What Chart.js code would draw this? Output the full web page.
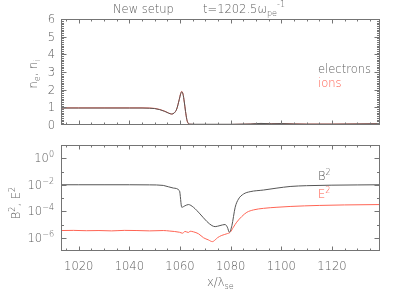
<!DOCTYPE html>
<html>
<head>
<meta charset="utf-8">
<script src="https://cdn.jsdelivr.net/npm/chart.js@4/dist/chart.umd.min.js"></script>
<style>
html, body { margin: 0; padding: 0; background: #fff; }
#wrap { position: relative; width: 407px; height: 291px; }
canvas { position: absolute; left: 0; top: 0; }
</style>
</head>
<body>
<div id="wrap">
  <canvas id="c1" width="407" height="291"></canvas>
  <canvas id="c2" width="407" height="291"></canvas>
</div>
<script>
"use strict";

// ---- data ----
let xDens = [1013, 1020, 1030, 1040, 1045, 1048, 1050, 1052, 1054, 1055.5, 1056.7, 1057.7, 1058.7, 1059.7, 1060.3, 1060.7, 1061.2, 1061.7, 1062.2, 1062.7, 1063.2, 1064, 1066, 1070, 1080, 1088, 1092, 1096, 1100, 1105, 1110, 1120, 1130, 1139];
let electrons = [0.96, 0.96, 0.96, 0.96, 0.96, 0.95, 0.93, 0.87, 0.77, 0.67, 0.62, 0.68, 0.9, 1.43, 1.78, 1.88, 1.74, 1.3, 0.76, 0.32, 0.11, 0.05, 0.04, 0.04, 0.04, 0.06, 0.09, 0.07, 0.08, 0.06, 0.05, 0.05, 0.06, 0.07];
let ions = [0.97, 0.97, 0.97, 0.97, 0.97, 0.96, 0.94, 0.88, 0.78, 0.68, 0.62, 0.68, 0.9, 1.45, 1.8, 1.9, 1.75, 1.3, 0.75, 0.3, 0.1, 0.04, 0.03, 0.03, 0.03, 0.05, 0.08, 0.07, 0.08, 0.06, 0.05, 0.05, 0.06, 0.07];

let xB = [1013, 1020, 1030, 1040, 1048, 1053.4, 1057.4, 1059.8, 1060.7, 1062.0, 1063.3, 1065.3, 1067.9, 1070.6, 1072.6, 1073.9, 1075.8, 1077.8, 1078.7, 1079.5, 1080.5, 1081.8, 1083.1, 1085.1, 1087.7, 1093, 1098.3, 1103.5, 1110, 1120, 1130, 1139];
let bSq = [1.0e-2, 1.0e-2, 1.0e-2, 1.0e-2, 9.8e-3, 8.9e-3, 5.6e-3, 3.5e-3, 2.0e-4, 2.6e-4, 3.2e-4, 2.0e-4, 6.3e-5, 1.7e-5, 8.3e-6, 6.9e-6, 8.3e-6, 1.0e-5, 6.3e-6, 2.6e-6, 8.3e-6, 2.0e-4, 8.3e-4, 2.0e-3, 3.0e-3, 4.0e-3, 5.6e-3, 7.4e-3, 8.5e-3, 9.3e-3, 9.7e-3, 1.0e-2];

let xE = [1013, 1018, 1023, 1028, 1033, 1038, 1043, 1048, 1053.4, 1056, 1059.8, 1061, 1062, 1063.3, 1064, 1065.3, 1067.3, 1069.3, 1071.2, 1072.8, 1073.9, 1074.8, 1076.5, 1078.5, 1079.8, 1081.1, 1082.4, 1084.4, 1086.4, 1089, 1093, 1098.3, 1103.5, 1115, 1125, 1139];
let eSq = [3.5e-6, 3.6e-6, 3.4e-6, 3.5e-6, 3.3e-6, 3.6e-6, 3.5e-6, 3.3e-6, 3.5e-6, 3.2e-6, 2.6e-6, 2.2e-6, 3.0e-6, 2.5e-6, 3.1e-6, 2.8e-6, 2.0e-6, 1.0e-6, 6.9e-7, 5.1e-7, 6.9e-7, 1.0e-6, 1.5e-6, 2.0e-6, 2.6e-6, 6.3e-6, 1.5e-5, 4.0e-5, 8.3e-5, 1.26e-4, 1.66e-4, 2.0e-4, 2.3e-4, 2.75e-4, 3.0e-4, 3.2e-4];

let xTicks = [1020, 1040, 1060, 1080, 1100, 1120];
let densTicks = [0, 1, 2, 3, 4, 5, 6];
let powTicks = [0, -2, -4, -6];

// ---- look ----
let axisCol = '#747474';
let textCol = '#5c5c5c';
let grayLine = '#555555';
let redLine = '#ff6454';
let redText = '#ff5a4a';
let FS = 11.5;
let FF = '"DejaVu Sans", sans-serif';

function pts(xs, ys) {
    return xs.map((x, i) => ({ x: x, y: ys[i] }));
}

// draws text made of pieces: [string, 0 normal / -1 sub / 1 sup]
function rich(ctx, parts, x, y, align) {
    let w = 0;
    for (let p of parts) {
        ctx.font = '200 ' + (p[1] ? FS * 0.7 : FS) + 'px ' + FF;
        w += ctx.measureText(p[0]).width;
    }
    let cx = align == 'center' ? x - w / 2 : (align == 'right' ? x - w : x);
    for (let p of parts) {
        ctx.font = '200 ' + (p[1] ? FS * 0.7 : FS) + 'px ' + FF;
        let dy = p[1] == -1 ? FS * 0.3 : (p[1] == 1 ? -FS * 0.45 : 0);
        ctx.fillText(p[0], cx, y + dy);
        cx += ctx.measureText(p[0]).width;
    }
}

// box with inward ticks, like the old IDL plots
function frame(cfg) {
    return {
        id: 'frame',
        afterDraw(chart) {
            let ctx = chart.ctx, a = chart.chartArea;
            let xs = chart.scales.x, ys = chart.scales.y;
            let L = Math.round(a.left) + 0.5, R = Math.round(a.right) - 0.5;
            let T = Math.round(a.top) + 0.5, B = Math.round(a.bottom) - 0.5;
            ctx.save();
            ctx.strokeStyle = axisCol;
            ctx.lineWidth = 1;
            ctx.strokeRect(L, T, R - L, B - T);
            ctx.beginPath();
            // x ticks, minor every 5
            for (let v = 1015; v <= 1135; v += 5) {
                let px = Math.round(xs.getPixelForValue(v)) + 0.5;
                let len = v % 20 == 0 ? 4 : 2;
                ctx.moveTo(px, B); ctx.lineTo(px, B - len);
                ctx.moveTo(px, T); ctx.lineTo(px, T + len);
            }
            // y ticks
            for (let t of cfg.yTicks()) {
                let py = Math.round(ys.getPixelForValue(t.v)) + 0.5;
                let len = t.major ? 5 : 2.5;
                ctx.moveTo(L, py); ctx.lineTo(L + len, py);
                ctx.moveTo(R, py); ctx.lineTo(R - len, py);
            }
            ctx.stroke();

            ctx.fillStyle = textCol;
            ctx.textBaseline = 'alphabetic';
            cfg.labels(ctx, a, xs, ys);
            ctx.restore();
        }
    };
}

let topCfg = {
    yTicks() {
        let out = [];
        for (let i = 1; i < 60; i++) out.push({ v: i / 10, major: i % 10 == 0 });
        return out;
    },
    labels(ctx, a, xs, ys) {
        ctx.textAlign = 'left';
        for (let v of densTicks) {
            let py = ys.getPixelForValue(v);
            rich(ctx, [[String(v), 0]], a.left - 6, py + 4, 'right');
        }
        // title
        rich(ctx, [['New setup', 0]], 113, 12.5, 'left');
        rich(ctx, [['t=1202.5\u03c9', 0], ['pe', -1], ['-1', 1]], 203, 12.5, 'left');
        // y title
        ctx.save();
        ctx.translate(37, 74);
        ctx.rotate(-Math.PI / 2);
        rich(ctx, [['n', 0], ['e', -1], [', n', 0], ['i', -1]], 0, 0, 'center');
        ctx.restore();
        // legend
        ctx.fillStyle = textCol;
        rich(ctx, [['electrons', 0]], 318, 73, 'left');
        ctx.fillStyle = redText;
        rich(ctx, [['ions', 0]], 318, 87, 'left');
    }
};

let botCfg = {
    yTicks() {
        let out = [];
        for (let p = -6; p <= 0; p++) out.push({ v: Math.pow(10, p), major: p % 2 == 0 });
        return out;
    },
    labels(ctx, a, xs, ys) {
        for (let p of powTicks) {
            let py = ys.getPixelForValue(Math.pow(10, p));
            rich(ctx, [['10', 0], [p == 0 ? '0' : '\u2212' + (-p), 1]], a.left - 7, py + 4, 'right');
        }
        for (let v of xTicks) {
            let px = xs.getPixelForValue(v);
            rich(ctx, [[String(v), 0]], px, a.bottom + 19, 'center');
        }
        rich(ctx, [['x/\u03bb', 0], ['se', -1]], 207, 286, 'left');
        ctx.save();
        ctx.translate(20, 203);
        ctx.rotate(-Math.PI / 2);
        rich(ctx, [['B', 0], ['2', 1], [', E', 0], ['2', 1]], 0, 0, 'center');
        ctx.restore();
        ctx.fillStyle = textCol;
        rich(ctx, [['B', 0], ['2', 1]], 318, 180, 'left');
        ctx.fillStyle = redText;
        rich(ctx, [['E', 0], ['2', 1]], 318, 198, 'left');
    }
};

function lineSet(label, data, color) {
    return {
        label: label,
        data: data,
        borderColor: color,
        borderWidth: 1,
        pointRadius: 0,
        fill: false,
        cubicInterpolationMode: 'monotone',
    };
}

let xScale = { type: 'linear', min: 1013, max: 1139, display: false };

let chart1 = new Chart(document.querySelector('#c1'), {
    type: 'line',
    data: {
        datasets: [
            lineSet('electrons', pts(xDens, electrons), grayLine),
            lineSet('ions', pts(xDens, ions), redLine),
        ],
    },
    options: {
        responsive: false,
        animation: false,
        layout: { padding: { left: 61, right: 27, top: 19, bottom: 166 } },
        plugins: { legend: { display: false }, tooltip: { enabled: false } },
        scales: {
            x: xScale,
            y: { type: 'linear', min: 0, max: 6, display: false },
        },
    },
    plugins: [frame(topCfg)],
});

let chart2 = new Chart(document.querySelector('#c2'), {
    type: 'line',
    data: {
        datasets: [
            lineSet('B2', pts(xB, bSq), grayLine),
            lineSet('E2', pts(xE, eSq), redLine),
        ],
    },
    options: {
        responsive: false,
        animation: false,
        layout: { padding: { left: 61, right: 27, top: 145, bottom: 40 } },
        plugins: { legend: { display: false }, tooltip: { enabled: false } },
        scales: {
            x: xScale,
            y: { type: 'logarithmic', min: 1e-7, max: 10, display: false },
        },
    },
    plugins: [frame(botCfg)],
});
</script>
</body>
</html>
